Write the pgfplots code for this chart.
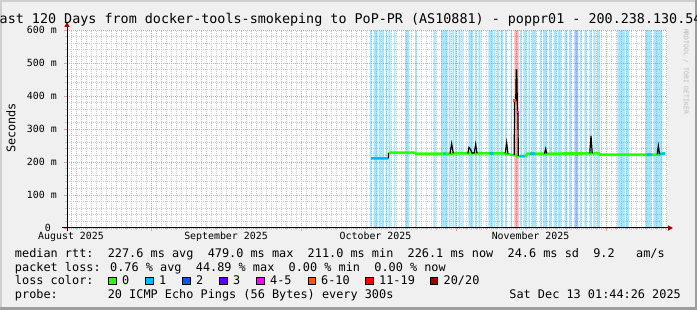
\documentclass[border=0pt]{standalone}
\usepackage{pgfplots}
\pgfplotsset{compat=1.18}
\usepackage{fontspec}
\setmainfont{DejaVu Sans Mono}
\usetikzlibrary{arrows.meta}
\definecolor{backc}{HTML}{F0F0F0}
\definecolor{shadea}{HTML}{CFCFCF}
\definecolor{shadeb}{HTML}{9E9E9E}
\definecolor{gridc}{HTML}{CACACA}
\definecolor{mgridc}{HTML}{EE9A9A}
\definecolor{arrowc}{HTML}{A00000}
\definecolor{lossA}{HTML}{26FF00}
\definecolor{lossB}{HTML}{00B8FF}
\definecolor{lossC}{HTML}{0059FF}
\definecolor{lossD}{HTML}{5E00FF}
\definecolor{lossE}{HTML}{FF00FF}
\definecolor{lossF}{HTML}{FF5500}
\definecolor{lossG}{HTML}{FF0000}
\definecolor{lossH}{HTML}{A10000}
\newcommand{\lf}{\fontsize{11.86}{14}\selectfont}
\newcommand{\af}{\fontsize{9.9}{11}\selectfont}
\begin{document}
\begin{tikzpicture}[x=1pt,y=1pt]
\useasboundingbox (0,0) rectangle (697,310);
\clip (0,0) rectangle (697,310);
\fill[backc] (0,0) rectangle (697,310);
\fill[shadea] (0,0) rectangle (2,310);
\fill[shadea] (0,308) rectangle (697,310);
\fill[shadeb] (694.5,0) rectangle (697,310);
\fill[shadeb] (0,0) rectangle (697,2.5);

\begin{axis}[
  at={(67pt,82pt)}, anchor=south west,
  scale only axis, width=600pt, height=198pt,
  xmin=0, xmax=120, ymin=0, ymax=600,
  axis background/.style={fill=white},
  axis line style={draw=none},
  tick pos=left, tick align=outside,
  xtick={16.93,46.93,77.93,107.93},
  xticklabels={,,,},
  minor xtick={0.93,1.93,...,119.93},
  ytick={0,100,...,600},
  yticklabels={0\ \ ,100 m,200 m,300 m,400 m,500 m,600 m},
  minor ytick={20,40,...,580},
  xmajorgrids, ymajorgrids, xminorgrids, yminorgrids,
  major grid style={mgridc, line width=0.8pt, dash pattern=on 1pt off 1pt},
  minor grid style={gridc, line width=0.8pt, dash pattern=on 1pt off 1pt},
  major tick length=3pt, minor tick length=2pt,
  major tick style={mgridc, line width=0.8pt},
  minor tick style={gridc, line width=0.8pt},
  extra x ticks={0.8,31.8,61.7,92.7},
  extra x tick labels={August 2025,September 2025,October 2025,November 2025},
  extra x tick style={grid=none, major tick length=0pt},
  xticklabel style={font=\af, anchor=base, inner sep=0pt, yshift=-12pt},
  yticklabel style={font=\af, anchor=east, inner sep=0pt, xshift=-7pt},
]
% loss background bars: 1 lost ping
\addplot[const plot, draw=none, fill=lossB, fill opacity=0.34] coordinates {
(60.60,600) (60.94,0) (61.30,600) (62.10,0) (62.30,600) (62.76,0)
(63.00,600) (63.40,0) (63.74,600) (64.06,0) (64.26,600) (64.70,0)
(65.40,600) (65.60,0) (67.60,600) (68.40,0) (69.60,600) (69.94,0)
(73.26,600) (73.74,0) (74.80,600) (76.10,0) (76.34,600) (76.70,0)
(77.06,600) (77.46,0) (77.60,600) (77.94,0) (78.26,600) (78.74,0)
(79.06,600) (79.34,0) (80.26,600) (81.26,0) (81.60,600) (81.94,0)
(82.26,600) (82.70,0) (84.26,600) (85.26,0) (85.40,600) (85.66,0)
(86.00,600) (86.46,0) (86.70,600) (87.20,0) (87.60,600) (87.94,0)
(88.70,600) (89.00,0) (90.60,600) (90.94,0) (91.26,600) (91.90,0)
(92.26,600) (92.60,0) (92.94,600) (93.80,0) (94.60,600) (94.94,0)
(95.20,600) (96.00,0) (96.40,600) (96.90,0) (97.30,600) (97.90,0)
(98.10,600) (98.80,0) (99.46,600) (100.00,0) (100.40,600) (100.94,0)
(102.60,600) (102.94,0) (103.46,600) (103.94,0) (104.46,600) (104.94,0)
(105.26,600) (105.74,0) (106.00,600) (106.60,0) (110.06,600) (111.60,0)
(111.80,600) (112.40,0) (115.60,600) (116.94,0) (117.26,600) (119.06,0)
} \closedcycle;
% 2 lost pings
\addplot[const plot, draw=none, fill=lossC, fill opacity=0.34] coordinates {
(101.46,600) (102.26,0)
} \closedcycle;
% 6-10 lost pings
\addplot[const plot, draw=none, fill=lossG, fill opacity=0.32] coordinates {
(89.46,600) (90.30,0)
} \closedcycle;
% median rtt, 0 loss
\addplot[lossA, line width=2.6pt] coordinates {
(64.27,226) (64.6,228) (69.5,228) (69.8,225) (76.6,225) (77.3,226)
(80.0,226) (82.2,226) (87.6,226) (88.3,223) (89.45,221) (90.25,218)
(91.7,218) (92.0,225) (104.0,226) (106.4,226) (106.7,222) (117.9,222)
(118.6,224) (119.6,226)
};
% median rtt, 1 loss
\addplot[lossB, line width=2.6pt, unbounded coords=jump] coordinates {
(60.8,211) (64.27,211) (64.28,nan)
(75.3,225) (75.7,225) (75.8,nan)
(84.5,226) (85.3,226) (85.4,nan)
(90.5,218) (91.5,218) (91.6,nan)
(92.6,225) (93.6,225) (93.7,nan)
(115.9,222) (117.0,222) (117.1,nan)
(118.4,223.4) (118.6,224) (119.6,226)
};
% peaks
\addplot[black, line width=1.2pt, unbounded coords=jump] coordinates {
(64.27,211) (64.27,227) (64.3,nan)
(76.6,225) (76.93,256) (77.25,226) (77.3,nan)
(80.15,226) (80.4,244) (80.7,238) (81.0,227) (81.45,228) (81.73,254) (82.0,226) (82.1,nan)
(87.65,226) (87.93,259) (88.2,225) (88.3,nan)
(89.45,221) (89.5,388) (89.75,388) (89.85,479) (89.95,479) (90.1,347) (90.2,347) (90.25,218) (90.3,nan)
(95.5,225) (95.73,240) (95.95,226) (96.0,nan)
(104.55,226) (104.8,279) (105.05,226) (105.1,nan)
(118.05,223) (118.27,249) (118.5,224)
};
\addplot[only marks, mark=square*, mark size=1pt, lossF] coordinates {(89.52,388)};
\addplot[only marks, mark=square*, mark size=0.8pt, lossE] coordinates {(90.17,352)};
\end{axis}

% axis lines with arrows
\draw[line width=1pt, -{Triangle[color=arrowc, length=5pt, width=5pt]}] (62,82) -- (673,82);
\draw[line width=1pt, -{Triangle[color=arrowc, length=5pt, width=5pt]}] (67,78.5) -- (67,288);

% title and labels
\node[anchor=base, inner sep=0pt, font=\fontsize{13.4}{15}\selectfont] at (346.6,286.7)
  {Last 120 Days from docker-tools-smokeping to PoP-PR (AS10881) - poppr01 - 200.238.130.54};
\node[rotate=90, inner sep=0pt, font=\lf] at (11,182) {Seconds};
\node[rotate=-90, inner sep=0pt, text=gray!55, font=\fontsize{6.4}{7}\selectfont] at (686,238.5) {RRDTOOL / TOBI OETIKER};

% legend
\node[anchor=base west, inner sep=0pt, font=\lf] at (14.8,52.5)
  {median rtt:~~227.6 ms avg~~479.0 ms max~~211.0 ms min~~226.1 ms now~~24.6 ms sd~~9.2~~~am/s};
\node[anchor=base west, inner sep=0pt, font=\lf] at (14.8,38.8)
  {packet loss: 0.76 \% avg~~44.89 \% max~~0.00 \% min~~0.00 \% now};
\node[anchor=base west, inner sep=0pt, font=\lf] at (14.8,25) {loss color:};
\filldraw[fill=lossA, draw=black, line width=0.8pt] (108.4,25.2) rectangle ++(7.6,7.8);
\filldraw[fill=lossB, draw=black, line width=0.8pt] (145.7,25.2) rectangle ++(7.6,7.8);
\filldraw[fill=lossC, draw=black, line width=0.8pt] (182.6,25.2) rectangle ++(7.6,7.8);
\filldraw[fill=lossD, draw=black, line width=0.8pt] (219.5,25.2) rectangle ++(7.6,7.8);
\filldraw[fill=lossE, draw=black, line width=0.8pt] (256.8,25.2) rectangle ++(7.6,7.8);
\filldraw[fill=lossF, draw=black, line width=0.8pt] (308.0,25.2) rectangle ++(7.6,7.8);
\filldraw[fill=lossG, draw=black, line width=0.8pt] (365.7,25.2) rectangle ++(7.6,7.8);
\filldraw[fill=lossH, draw=black, line width=0.8pt] (430.2,25.2) rectangle ++(7.6,7.8);
\node[anchor=base west, inner sep=0pt, font=\lf] at (122,25) {0};
\node[anchor=base west, inner sep=0pt, font=\lf] at (159,25) {1};
\node[anchor=base west, inner sep=0pt, font=\lf] at (196,25) {2};
\node[anchor=base west, inner sep=0pt, font=\lf] at (233,25) {3};
\node[anchor=base west, inner sep=0pt, font=\lf] at (270,25) {4-5};
\node[anchor=base west, inner sep=0pt, font=\lf] at (321,25) {6-10};
\node[anchor=base west, inner sep=0pt, font=\lf] at (379,25) {11-19};
\node[anchor=base west, inner sep=0pt, font=\lf] at (443.5,25) {20/20};
\node[anchor=base west, inner sep=0pt, font=\lf] at (14.8,11.4)
  {probe:~~~~~~~20 ICMP Echo Pings (56 Bytes) every 300s};
\node[anchor=base east, inner sep=0pt, font=\lf] at (681,11.4) {Sat Dec 13 01:44:26 2025};
\end{tikzpicture}
\end{document}
